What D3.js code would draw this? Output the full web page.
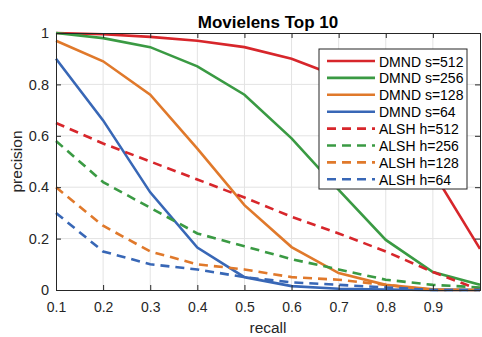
<!DOCTYPE html>
<html lang="en">
<head>
    <meta charset="UTF-8">
    <title>Movielens Top 10</title>
    <style>
        body { margin: 0; background: #fff; }
        text { font-family: "Liberation Sans", Arial, sans-serif; fill: #262626; }
        .grid line { stroke: #e3e3e3; stroke-width: 1px; }
        .series { fill: none; stroke-width: 2.6px; }
    </style>
</head>
<body>
    <svg width="482" height="337"></svg>

    <script src="https://d3js.org/d3.v7.min.js"></script>
    <script>
        const width = 482, height = 337;
        const margin = { top: 33, right: 1, bottom: 47, left: 56 };

        const recall = [0.1, 0.2, 0.3, 0.4, 0.5, 0.6, 0.7, 0.8, 0.9, 1.0];
        const xTicks = [0.1, 0.2, 0.3, 0.4, 0.5, 0.6, 0.7, 0.8, 0.9];
        const yTicks = [0, 0.2, 0.4, 0.6, 0.8, 1];

        const dmnd512 = [1.0, 0.995, 0.985, 0.97, 0.945, 0.9, 0.83, 0.7, 0.46, 0.16];
        const dmnd256 = [1.0, 0.98, 0.945, 0.87, 0.76, 0.59, 0.39, 0.195, 0.07, 0.02];
        const dmnd128 = [0.97, 0.89, 0.76, 0.55, 0.33, 0.167, 0.066, 0.02, 0.003, 0.0];
        const dmnd64 = [0.9, 0.66, 0.38, 0.165, 0.05, 0.015, 0.005, 0.002, 0.0, 0.0];
        const alsh512 = [0.65, 0.57, 0.5, 0.43, 0.36, 0.285, 0.22, 0.15, 0.07, 0.0];
        const alsh256 = [0.58, 0.42, 0.32, 0.22, 0.17, 0.12, 0.08, 0.04, 0.02, 0.01];
        const alsh128 = [0.4, 0.25, 0.15, 0.1, 0.08, 0.05, 0.04, 0.02, 0.0, 0.0];
        const alsh64 = [0.3, 0.15, 0.1, 0.08, 0.05, 0.03, 0.02, 0.01, 0.0, 0.0];

        const series = [
            { name: "DMND s=512", values: dmnd512, color: "#d7262b", dashed: false },
            { name: "DMND s=256", values: dmnd256, color: "#3a9a43", dashed: false },
            { name: "DMND s=128", values: dmnd128, color: "#e0792b", dashed: false },
            { name: "DMND s=64", values: dmnd64, color: "#3867b6", dashed: false },
            { name: "ALSH h=512", values: alsh512, color: "#d7262b", dashed: true },
            { name: "ALSH h=256", values: alsh256, color: "#3a9a43", dashed: true },
            { name: "ALSH h=128", values: alsh128, color: "#e0792b", dashed: true },
            { name: "ALSH h=64", values: alsh64, color: "#3867b6", dashed: true }
        ];

        const svg = d3.select("svg");
        const x = d3.scaleLinear().domain([0.1, 1.0]).range([margin.left, width - margin.right - 1]);
        const y = d3.scaleLinear().domain([0, 1]).range([height - margin.bottom, margin.top]);
        const x0 = x.range()[0], x1 = x.range()[1], y0 = y.range()[0], y1 = y.range()[1];

        // grid
        const grid = svg.append("g").attr("class", "grid");
        grid.selectAll(".gx").data(xTicks.slice(1)).enter().append("line")
            .attr("x1", d => x(d)).attr("x2", d => x(d)).attr("y1", y0).attr("y2", y1);
        grid.selectAll(".gy").data(yTicks.slice(1, -1)).enter().append("line")
            .attr("x1", x0).attr("x2", x1).attr("y1", d => y(d)).attr("y2", d => y(d));

        // lines
        const line = d3.line().x((d, i) => x(recall[i])).y(d => y(d));
        svg.selectAll(".series").data(series).enter().append("path")
            .attr("class", "series")
            .attr("stroke", d => d.color)
            .attr("stroke-dasharray", d => d.dashed ? "9,6" : null)
            .attr("d", d => line(d.values));

        // axes with inward ticks on all sides
        const fmt = d => d === 0 || d === 1 ? String(d) : d.toFixed(1);
        svg.append("g").attr("transform", `translate(0,${y0})`)
            .call(d3.axisBottom(x).tickValues(xTicks).tickSize(-5).tickPadding(12).tickFormat(fmt))
            .call(g => g.selectAll("text").style("font-size", "14px"));
        svg.append("g").attr("transform", `translate(0,${y1})`)
            .call(d3.axisTop(x).tickValues(xTicks).tickSize(-5).tickFormat(""));
        svg.append("g").attr("transform", `translate(${x0},0)`)
            .call(d3.axisLeft(y).tickValues(yTicks).tickSize(-5).tickPadding(7).tickFormat(fmt))
            .call(g => g.selectAll("text").style("font-size", "14.5px"));
        svg.append("g").attr("transform", `translate(${x1},0)`)
            .call(d3.axisRight(y).tickValues(yTicks).tickSize(-5).tickFormat(""));
        svg.selectAll(".domain").attr("stroke", "#262626");
        svg.selectAll(".tick line").attr("stroke", "#262626");

        // title and labels
        svg.append("text").attr("x", (x0 + x1) / 2).attr("y", 28)
            .attr("text-anchor", "middle").style("font-size", "17px").style("font-weight", "bold")
            .style("fill", "#000").text("Movielens Top 10");
        svg.append("text").attr("x", (x0 + x1) / 2).attr("y", 333)
            .attr("text-anchor", "middle").style("font-size", "15.5px").text("recall");
        svg.append("text").attr("transform", `translate(22,${(y0 + y1) / 2}) rotate(-90)`)
            .attr("text-anchor", "middle").style("font-size", "15.5px").text("precision");

        // legend
        const legend = svg.append("g").attr("transform", "translate(319,49)");
        legend.append("rect").attr("width", 148).attr("height", 140)
            .attr("fill", "#fff").attr("stroke", "#262626").attr("stroke-width", 1);
        const item = legend.selectAll(".item").data(series).enter().append("g")
            .attr("transform", (d, i) => `translate(0,${12 + i * 16.9})`);
        item.append("line").attr("x1", 8).attr("x2", 56).attr("y1", 0).attr("y2", 0)
            .attr("stroke", d => d.color).attr("stroke-width", 2.6)
            .attr("stroke-dasharray", d => d.dashed ? "9,6" : null);
        item.append("text").attr("x", 60).attr("y", 5.5).style("font-size", "14px")
            .style("fill", "#000").text(d => d.name);
    </script>
</body>
</html>
